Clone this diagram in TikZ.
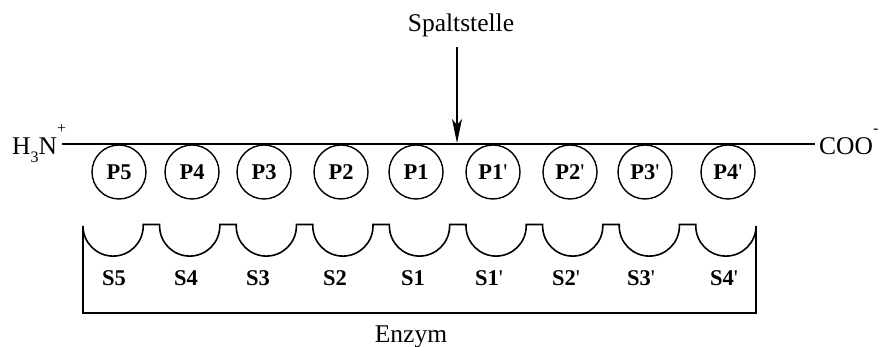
\documentclass[tikz,border=0pt]{standalone}
\usepackage{fontspec}
\setmainfont{Liberation Serif}
\usetikzlibrary{arrows.meta}
\tikzset{
  reg/.style={inner sep=0pt, font=\fontsize{25.5}{28}\selectfont},
  pcirc/.style={circle, draw, line width=1.4pt, minimum size=54pt, inner sep=0pt,
    font=\bfseries\fontsize{22.5}{24}\selectfont},
  slabel/.style={inner sep=0pt, font=\bfseries\fontsize{22.5}{24}\selectfont},
  mainline/.style={line width=2.4pt},
  enz/.style={line width=1.6pt, line join=miter},
  arr/.style={line width=1.4pt, -{Stealth[length=24pt,width=10pt,inset=6pt]}}
}
\newcommand{\pr}{\textnormal{\textquotesingle}}
\newcommand{\hisub}[1]{\raisebox{-0.3em}{\fontsize{16}{16}\selectfont #1}}
\newcommand{\hisup}[1]{\raisebox{0.85em}{\fontsize{16}{16}\selectfont #1}}
\begin{document}
\begin{tikzpicture}[x=1pt,y=1pt]
\useasboundingbox (0,0) rectangle (880,347);
% end groups
\node[reg, anchor=base west] (h3n) at (12,192) {H\hisub{3}N\hisup{+}};
\node[reg, anchor=base west] (coo) at (819,192) {COO\hisup{-}};
\coordinate (lstart) at (62,203);
\coordinate (lend) at (815,203);
\coordinate (cut) at (457,204);
\draw[mainline] (lstart) -- (lend);
% cleavage site
\node[reg, anchor=base] (spalt) at (461,315) {Spaltstelle};
\draw[arr, shorten <=9pt] (spalt.south -| cut) -- (cut);
% P residues
\node[pcirc] (p5) at (119,175) {P5};
\node[pcirc] (p4) at (192,175) {P4};
\node[pcirc] (p3) at (264,175) {P3};
\node[pcirc] (p2) at (341,175) {P2};
\node[pcirc] (p1) at (416,175) {P1};
\node[pcirc] (p1p) at (493,175) {P1\pr};
\node[pcirc] (p2p) at (570,175) {P2\pr};
\node[pcirc] (p3p) at (645,175) {P3\pr};
\node[pcirc] (p4p) at (728,175) {P4\pr};
% enzyme with subsites
\draw[enz] (83,34) -- (83,121)
  \foreach \i in {1,...,8} {
    arc[start angle=180, end angle=360, radius=30.1] -- ++(0,1.5) -- ++(16.4,0) -- ++(0,-1.5)
  }
  arc[start angle=180, end angle=360, radius=30.1] -- (756,34) -- cycle;
% S labels
\node[slabel] (s5) at (114,69) {S5};
\node[slabel] (s4) at (186,69) {S4};
\node[slabel] (s3) at (258,69) {S3};
\node[slabel] (s2) at (335,69) {S2};
\node[slabel] (s1) at (413,69) {S1};
\node[slabel] (s1p) at (489,69) {S1\pr};
\node[slabel] (s2p) at (566,69) {S2\pr};
\node[slabel] (s3p) at (641,69) {S3\pr};
\node[slabel] (s4p) at (724,69) {S4\pr};
\node[reg, anchor=base] (enzym) at (411,4) {Enzym};
\end{tikzpicture}
\end{document}
